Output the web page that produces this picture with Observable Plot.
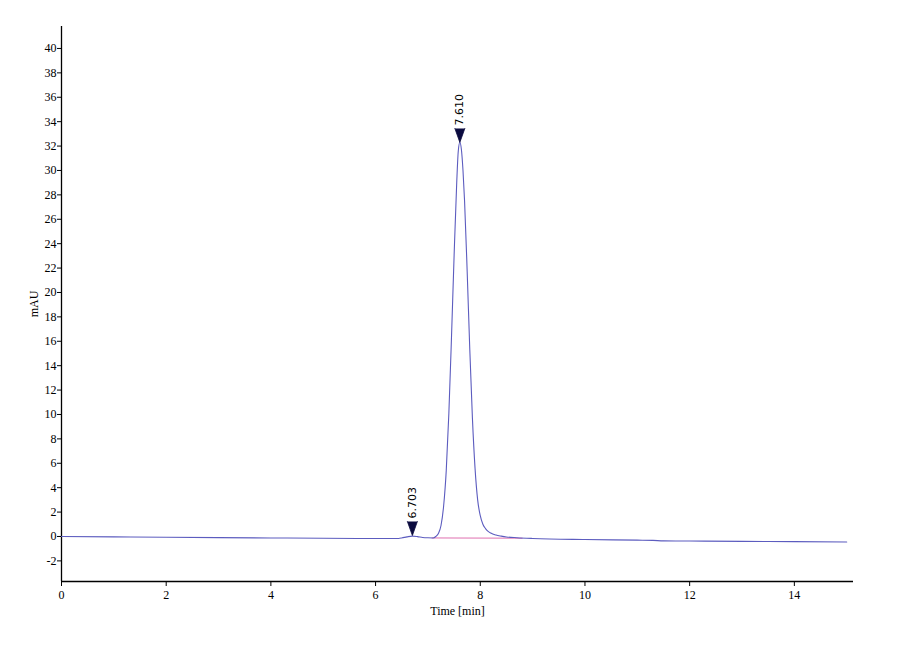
<!DOCTYPE html>
<html>
<head>
<meta charset="utf-8">
<script src="https://cdn.jsdelivr.net/npm/d3@7"></script>
<script src="https://cdn.jsdelivr.net/npm/@observablehq/plot@0.6"></script>
<style>
  html, body { margin: 0; padding: 0; background: #ffffff; }
  #chart { width: 900px; height: 660px; }
</style>
</head>
<body>
<div id="chart"></div>
<script>
// Chromatogram trace (time in min, signal in mAU)
const time = [0,1,2,3,4,5,6,6.4,6.5,6.6,6.7,6.8,6.9,7.0,7.1,7.15,7.2,7.25,7.3,7.35,7.4,7.45,7.5,7.55,7.58,7.61,7.64,7.67,7.7,7.75,7.8,7.85,7.9,7.95,8.0,8.05,8.1,8.15,8.2,8.3,8.4,8.5,8.7,9.0,10,11,11.3,11.5,12,13,14,15];
const mAU = [0,-0.03,-0.06,-0.09,-0.12,-0.15,-0.17,-0.17,-0.12,-0.03,0.03,-0.01,-0.08,-0.11,-0.12,0.0,0.25,0.9,2.5,5.4,10.1,16.3,23.0,29.0,31.6,32.3,31.7,30.0,27.5,21.7,15.3,9.7,5.6,3.0,1.7,1.0,0.65,0.42,0.28,0.12,0.03,-0.04,-0.1,-0.16,-0.25,-0.3,-0.32,-0.36,-0.37,-0.4,-0.42,-0.45];

// Integration baseline of the main peak
const baseTime = [7.08, 8.8];
const baseValue = [-0.12, -0.14];

// Peak markers
const peakTime = [6.703, 7.610];
const peakValue = [0.08, 32.3];
const peakLabel = ["6.703", "7.610"];

// Axes
const xDomain = [0, 15.13];
const yDomain = [-3.69, 41.8];
const xTicks = [0, 2, 4, 6, 8, 10, 12, 14];
const yTicks = [-2, 0, 2, 4, 6, 8, 10, 12, 14, 16, 18, 20, 22, 24, 26, 28, 30, 32, 34, 36, 38, 40];

const trace = time.map((t, i) => ({t, v: mAU[i]}));
const base = baseTime.map((t, i) => ({t, v: baseValue[i]}));
const peaks = peakTime.map((t, i) => ({t, v: peakValue[i], label: peakLabel[i]}));

const serif = "'Liberation Serif', 'Times New Roman', serif";

const chart = Plot.plot({
  width: 900,
  height: 660,
  marginLeft: 61,
  marginRight: 47,
  marginTop: 26,
  marginBottom: 79,
  style: {fontFamily: serif, fontSize: "12px", background: "#ffffff", color: "#000"},
  x: {domain: xDomain},
  y: {domain: yDomain},
  marks: [
    Plot.axisX({ticks: xTicks, tickSize: 5, tickPadding: 4, tickFormat: d => String(d),
      fontFamily: serif, fontSize: 12,
      label: "Time [min]", labelAnchor: "center", labelArrow: "none", labelOffset: 33}),
    Plot.axisY({ticks: yTicks, tickSize: 4, tickPadding: 1, tickFormat: d => String(d),
      fontFamily: serif, fontSize: 12,
      label: "mAU", labelAnchor: "center", labelArrow: "none", labelOffset: 32}),
    Plot.ruleX([xDomain[0]], {stroke: "#000", strokeWidth: 1.3}),
    Plot.ruleY([yDomain[0]], {stroke: "#000", strokeWidth: 1.3}),
    Plot.line(base, {x: "t", y: "v", stroke: "#e070b0", strokeWidth: 1}),
    Plot.line(trace, {x: "t", y: "v", stroke: "#5c5cbf", strokeWidth: 1.1, curve: "monotone-x"}),
    Plot.vector(peaks, {x: "t", y: "v", length: 14, r: 5, rotate: 180, anchor: "end", shape: "spike",
      fill: "#0b0b3f", stroke: "#0b0b3f", strokeWidth: 0.8}),
    Plot.text(peaks, {x: "t", y: "v", text: "label", rotate: -90, textAnchor: "start", lineAnchor: "middle",
      dy: -17, fontFamily: "'DejaVu Sans', sans-serif", fontSize: 11, fill: "#000"})
  ]
});
document.getElementById("chart").appendChild(chart);
</script>
</body>
</html>
